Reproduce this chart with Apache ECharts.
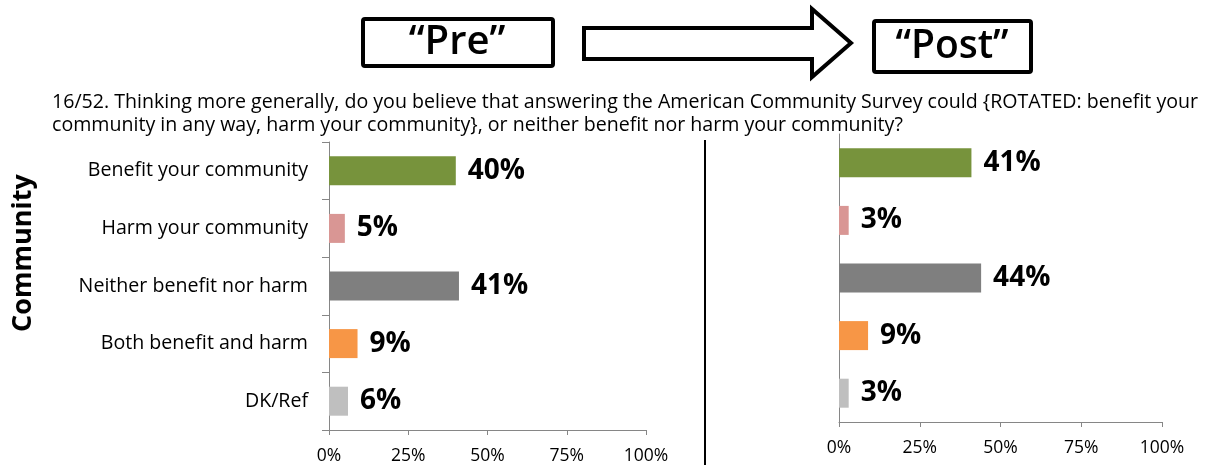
<!DOCTYPE html>
<html>
<head>
<meta charset="utf-8">
<script src="https://cdn.jsdelivr.net/npm/echarts@6/dist/echarts.min.js"></script>
<style>
  html, body { margin: 0; padding: 0; background: #fff; }
  #main { width: 1214px; height: 465px; }
</style>
</head>
<body>
<div id="main"></div>
<script>
// data
var categories = ['Benefit your community', 'Harm your community', 'Neither benefit nor harm', 'Both benefit and harm', 'DK/Ref'];
var preValues = [40, 5, 41, 9, 6];
var postValues = [41, 3, 44, 9, 3];
var xTicks = [0, 25, 50, 75, 100];
var question = '16/52. Thinking more generally, do you believe that answering the American Community Survey could {ROTATED: benefit your\ncommunity in any way, harm your community}, or neither benefit nor harm your community?';

// styles
var barColors = ['#77933C', '#D99694', '#7F7F7F', '#F79646', '#BFBFBF'];
var font = '"Open Sans", "DejaVu Sans", sans-serif';
var axisGray = '#868686';

var myChart = echarts.init(document.getElementById('main'));

function colored(values) {
    return values.map(function (v, i) {
        return { value: v, itemStyle: { color: barColors[i] } };
    });
}

function xAxisCfg(gridIndex) {
    return {
        type: 'value', gridIndex: gridIndex,
        min: xTicks[0], max: xTicks[xTicks.length - 1], interval: xTicks[1] - xTicks[0],
        splitLine: { show: false },
        axisLine: { show: true, lineStyle: { color: axisGray, width: 1 } },
        axisTick: { show: true, length: 5, lineStyle: { color: axisGray } },
        axisLabel: { formatter: '{value}%', color: '#000', fontFamily: font, fontSize: 17.5, margin: 17 }
    };
}

function barSeries(values, idx) {
    return {
        type: 'bar', xAxisIndex: idx, yAxisIndex: idx,
        data: colored(values),
        barWidth: 29,
        animation: false,
        label: {
            show: true, position: 'right', distance: 12,
            formatter: '{c}%', color: '#000',
            fontFamily: font, fontWeight: 'bold', fontSize: 28
        }
    };
}

var option = {
    backgroundColor: '#fff',
    title: {
        text: question,
        left: 52, top: 91, padding: 0,
        textStyle: { fontFamily: font, fontWeight: 'normal', fontSize: 19.6, color: '#000', lineHeight: 23 }
    },
    grid: [
        { left: 329, top: 142, width: 317, height: 288 },
        { left: 839, top: 134, width: 323, height: 288 }
    ],
    xAxis: [xAxisCfg(0), xAxisCfg(1)],
    yAxis: [
        {
            type: 'category', gridIndex: 0, data: categories, inverse: true,
            axisLine: { show: true, lineStyle: { color: axisGray } },
            axisTick: { show: true, length: 7, lineStyle: { color: axisGray } },
            axisLabel: { color: '#000', fontFamily: font, fontSize: 19.6, margin: 21 }
        },
        {
            type: 'category', gridIndex: 1, data: categories, inverse: true,
            axisLine: { show: true, lineStyle: { color: axisGray } },
            axisTick: { show: false },
            axisLabel: { show: false }
        }
    ],
    series: [barSeries(preValues, 0), barSeries(postValues, 1)],
    graphic: [
        // Pre box
        { type: 'rect', shape: { x: 363, y: 19, width: 190, height: 47, r: 2 },
          style: { fill: '#fff', stroke: '#000', lineWidth: 4 } },
        { type: 'text', x: 457, y: 43,
          style: { text: '\u201CPre\u201D', fontFamily: font, fontWeight: 600, fontSize: 40, fill: '#000', align: 'center', verticalAlign: 'middle' } },
        // arrow
        { type: 'polygon',
          shape: { points: [[584, 28], [812, 28], [812, 9], [851, 43], [812, 77], [812, 59], [584, 59]] },
          style: { fill: '#fff', stroke: '#000', lineWidth: 4, lineJoin: 'miter' } },
        // Post box
        { type: 'rect', shape: { x: 874, y: 21, width: 157, height: 51, r: 2 },
          style: { fill: '#fff', stroke: '#000', lineWidth: 4 } },
        { type: 'text', x: 952, y: 47,
          style: { text: '\u201CPost\u201D', fontFamily: font, fontWeight: 600, fontSize: 39, fill: '#000', align: 'center', verticalAlign: 'middle' } },
        // divider
        { type: 'line', shape: { x1: 705, y1: 140, x2: 705, y2: 465 },
          style: { stroke: '#000', lineWidth: 2 } },
        // side label
        { type: 'text', x: 23, y: 253, rotation: Math.PI / 2,
          style: { text: 'Community', fontFamily: font, fontWeight: 'bold', fontSize: 27, fill: '#000', align: 'center', verticalAlign: 'middle' } }
    ]
};

myChart.setOption(option);
</script>
</body>
</html>
